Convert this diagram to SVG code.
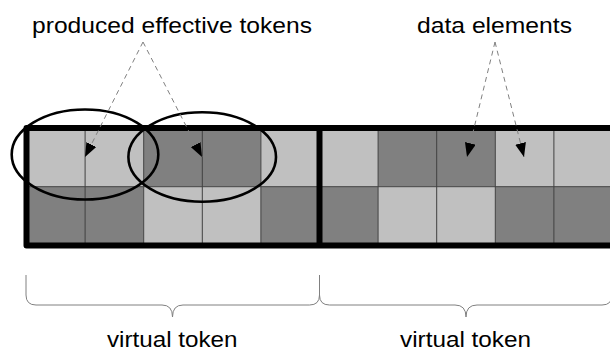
<svg xmlns="http://www.w3.org/2000/svg" width="610" height="353" viewBox="0 0 610 353">
<defs>
<style>
.lt{fill:#c0c0c0}
.dk{fill:#808080}
.grid{stroke:#404040;stroke-width:1;fill:none}
.frame{stroke:#000;stroke-width:6;fill:none;stroke-linejoin:round}
.ell{stroke:#000;stroke-width:2.6;fill:none}
.dash{stroke:#808080;stroke-width:1;stroke-dasharray:5 4;fill:none}
.brace{stroke:#808080;stroke-width:1;fill:none}
.lbl{font-family:"Liberation Sans",Arial,sans-serif;font-size:22px;fill:#000}
</style>
<marker id="ah" markerUnits="userSpaceOnUse" markerWidth="15" markerHeight="11" refX="14" refY="5.5" orient="auto">
<path d="M0,0 L14,5.5 L0,11 z" fill="#000"/>
</marker>
</defs>
<g id="grid">
<rect class="lt" x="26.5" y="128" width="117.2" height="58.7"/>
<rect class="dk" x="143.7" y="128" width="117.2" height="58.7"/>
<rect class="lt" x="260.9" y="128" width="117.2" height="58.7"/>
<rect class="dk" x="378.1" y="128" width="117.2" height="58.7"/>
<rect class="lt" x="495.3" y="128" width="120" height="58.7"/>
<rect class="dk" x="26.5" y="186.7" width="117.2" height="58.8"/>
<rect class="lt" x="143.7" y="186.7" width="117.2" height="58.8"/>
<rect class="dk" x="260.9" y="186.7" width="117.2" height="58.8"/>
<rect class="lt" x="378.1" y="186.7" width="117.2" height="58.8"/>
<rect class="dk" x="495.3" y="186.7" width="120" height="58.8"/>
<path class="grid" d="M85.1,128V245.5M143.7,128V245.5M202.3,128V245.5M260.9,128V245.5M378.1,128V245.5M436.7,128V245.5M495.3,128V245.5M553.9,128V245.5M26.5,186.7H614"/>
<rect class="frame" x="26.5" y="128" width="588" height="117.5"/>
<path class="frame" d="M319.5,128V245.5"/>
</g>
<g id="effective-tokens">
<ellipse class="ell" cx="85" cy="154.5" rx="73.3" ry="45"/>
<ellipse class="ell" cx="202.2" cy="157" rx="73.8" ry="44.7"/>
</g>
<g id="connectors">
<path class="dash" d="M143,42L85,157" marker-end="url(#ah)"/>
<path class="dash" d="M143,42L202,157" marker-end="url(#ah)"/>
<path class="dash" d="M495,42L467,157" marker-end="url(#ah)"/>
<path class="dash" d="M495,42L524,157" marker-end="url(#ah)"/>
</g>
<g id="braces">
<path class="brace" d="M26,275V295Q26,305 36,305H162Q172.5,305 172.5,317Q172.5,305 183,305H309.5Q319.5,305 319.5,295V275"/>
<path class="brace" d="M319.5,295Q319.5,305 329.5,305H455Q466,305 466,317Q466,305 477,305H602Q612,305 612,295V275"/>
</g>
<g id="labels">
<text class="lbl" x="32" y="32.5" textLength="280" lengthAdjust="spacingAndGlyphs">produced effective tokens</text>
<text class="lbl" x="417" y="32.5" textLength="155" lengthAdjust="spacingAndGlyphs">data elements</text>
<text class="lbl" x="107" y="346.5" textLength="130.5" lengthAdjust="spacingAndGlyphs">virtual token</text>
<text class="lbl" x="400" y="346.5" textLength="131" lengthAdjust="spacingAndGlyphs">virtual token</text>
</g>
</svg>
